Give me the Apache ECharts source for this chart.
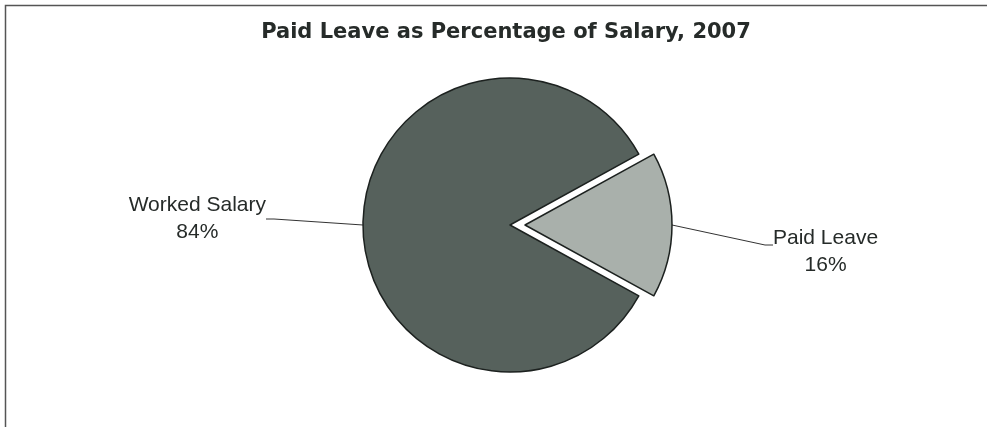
<!DOCTYPE html>
<html>
<head>
<meta charset="utf-8">
<script src="https://cdn.jsdelivr.net/npm/echarts@6/dist/echarts.min.js"></script>
<style>
  html, body { margin: 0; padding: 0; background: #fff; }
  #main { width: 987px; height: 427px; }
</style>
</head>
<body>
<div id="main"></div>
<script>
// data
let categories = ['Paid Leave', 'Worked Salary'];
let shares = [16, 84];
let sliceColors = ['#a9b0ab', '#56615c'];
// nudge of each label from its default spot, px
let labelShiftX = [0, 4];
let labelShiftY = [20, -6];
// extra bottom padding lifts the selected slice's text
let labelPadBottom = [12, 0];

let myChart = echarts.init(document.getElementById('main'));

myChart.setOption({
    backgroundColor: '#fff',
    title: {
        text: 'Paid Leave as Percentage of Salary, 2007',
        left: 501,
        top: 17,
        textAlign: 'center',
        textStyle: {
            fontFamily: 'DejaVu Sans',
            fontWeight: 'bold',
            fontSize: 21,
            color: '#262b29'
        }
    },
    // frame of the chart area
    graphic: [{
        type: 'rect',
        shape: { x: 5.5, y: 5.5, width: 1000, height: 500 },
        style: { fill: 'none', stroke: '#555', lineWidth: 1.5 },
        silent: true
    }],
    series: [{
        type: 'pie',
        center: [510, 225],
        radius: 147,
        startAngle: 28.8,
        clockwise: true,
        selectedMode: 'single',
        selectedOffset: 15,
        animation: false,
        itemStyle: {
            borderColor: '#1c211f',
            borderWidth: 1.5
        },
        label: {
            show: true,
            position: 'outside',
            formatter: '{c|{b}}\n{c|{d}%}',
            fontFamily: 'Liberation Sans',
            fontSize: 21,
            color: '#262b29',
            lineHeight: 27,
            rich: {
                c: { align: 'center', fontFamily: 'Liberation Sans', fontSize: 21, lineHeight: 27, color: '#262b29' }
            }
        },
        labelLine: {
            show: true,
            length: 88,
            length2: 8,
            lineStyle: { color: '#333', width: 1 }
        },
        labelLayout: function (params) {
            let r = params.labelRect;
            return {
                x: r.x + labelShiftX[params.dataIndex],
                y: r.y + labelShiftY[params.dataIndex],
                align: 'left',
                verticalAlign: 'top'
            };
        },
        emphasis: { disabled: true },
        data: categories.map((name, i) => ({
            name: name,
            value: shares[i],
            selected: i === 0,
            label: { padding: [0, 0, labelPadBottom[i], 0] },
            itemStyle: { color: sliceColors[i] },
            select: { itemStyle: { color: sliceColors[i], borderColor: '#1c211f', borderWidth: 1.5 } }
        }))
    }]
});
</script>
</body>
</html>
